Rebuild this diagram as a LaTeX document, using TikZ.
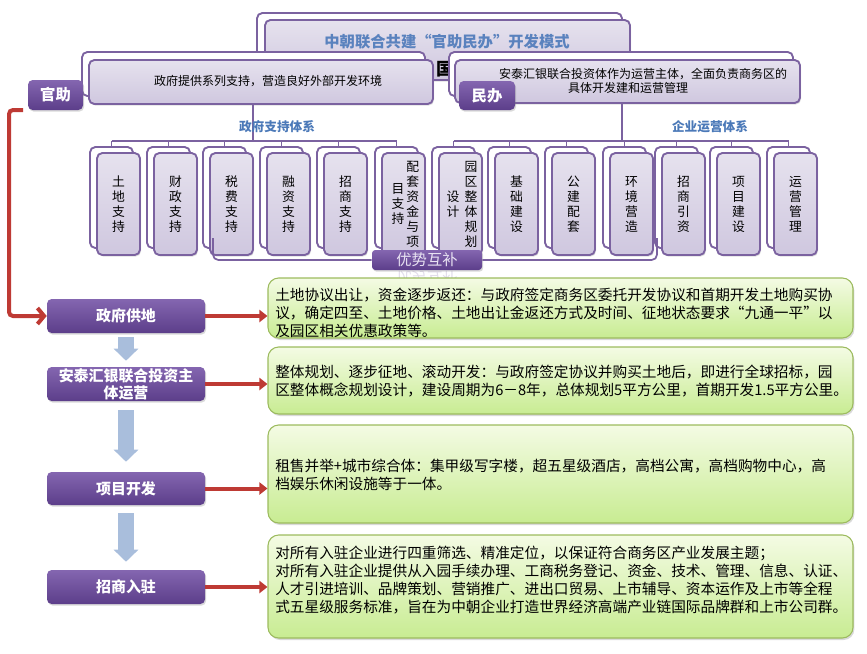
\documentclass[tikz,border=0pt]{standalone}
\usepackage{fontspec}
\usepackage{graphicx}
\setmainfont{Noto Sans CJK SC}
\usetikzlibrary{fit,shadows,arrows.meta}
\definecolor{pborder}{HTML}{7B62A0}
\definecolor{lav}{HTML}{CFC7DF}
\definecolor{lavtop}{HTML}{E6E2EE}
\definecolor{pdark}{HTML}{5C3E8A}
\definecolor{plight}{HTML}{8466B0}
\definecolor{gfilltop}{HTML}{F4FBE4}
\definecolor{gfillbot}{HTML}{C8EC92}
\definecolor{gborder}{HTML}{9CBB5E}
\definecolor{tblue}{HTML}{5A82BE}
\definecolor{lblue}{HTML}{4B79B8}
\definecolor{arrred}{HTML}{BE3A34}
\definecolor{arrblue}{HTML}{A9BEDC}
\definecolor{ybtext}{HTML}{E8E2F2}
\begin{document}
\begin{tikzpicture}[x=0.75pt,y=-0.75pt,
  backbox/.style={draw=pborder,line width=1.4pt,rounded corners=4pt,fill=white,inner sep=0pt},
  frontbox/.style={draw=pborder,line width=1.4pt,rounded corners=4pt,top color=lavtop,bottom color=lav,inner sep=0pt,
    drop shadow={opacity=0.25,shadow xshift=0.8pt,shadow yshift=-1.2pt}},
  tagbox/.style={rounded corners=3.5pt,top color=plight,bottom color=pdark,inner sep=0pt,
    drop shadow={opacity=0.3,shadow xshift=0.8pt,shadow yshift=-1.2pt}},
  tagtext/.style={text=white,inner sep=0pt,font=\bfseries\fontsize{11.5}{13}\selectfont},
  steptext/.style={text=white,inner sep=0pt,align=center,font=\bfseries\fontsize{11.2}{12.8}\selectfont},
  greenbox/.style={draw=gborder,line width=0.8pt,rounded corners=8pt,top color=gfilltop,bottom color=gfillbot,inner sep=0pt,
    drop shadow={opacity=0.3,shadow xshift=1pt,shadow yshift=-1.5pt}},
  gtext/.style={anchor=west,align=left,inner sep=0pt,font=\fontsize{11}{13.5}\selectfont},
  coltext/.style={align=center,inner sep=0pt,font=\fontsize{9.6}{11.25}\selectfont},
  boxtext/.style={inner sep=0pt,font=\fontsize{9}{10.5}\selectfont},
  bluelab/.style={inner sep=0pt,text=lblue,font=\bfseries\fontsize{9.5}{11}\selectfont},
  conn/.style={draw=pborder,line width=1.3pt},
  redarr/.style={draw=arrred,line width=3pt,-{Triangle[length=6pt,width=9pt]}},
  bigred/.style={draw=arrred,line width=3pt,rounded corners=3pt,-{Straight Barb[length=5pt,width=12pt]}},
  bluearr/.style={draw=arrblue,line width=12pt,-{Triangle[length=9pt,width=18pt]}}
]
\useasboundingbox (0,0) rectangle (867,653);

% title
\node[backbox, fit={(257,13) (622,73)}] (tb) {};
\node[frontbox, fit={(265,20) (630,80)}] (tf) {};
\node[inner sep=0pt,text=tblue,font=\bfseries\fontsize{11.5}{13}\selectfont] (tt) at (447,42) {中朝联合共建“官助民办”开发模式};
\node[inner sep=0pt,font=\bfseries\fontsize{13}{14}\selectfont] (frag) at (445,69) {国};

% left top box
\node[backbox, fit={(82,52) (425,96)}] (lb) {};
\node[frontbox, fit={(89,60) (433,104)}] (lf) {};
\node[boxtext] (lt) at (268,81) {政府提供系列支持，营造良好外部开发环境};

% right top box
\node[backbox, fit={(449,52) (793,96)}] (rb) {};
\node[frontbox, fit={(455,60) (800,103)}] (rf) {};
\node[boxtext] (rt1) at (643,74) {安泰汇银联合投资体作为运营主体，全面负责商务区的};
\node[boxtext] (rt2) at (628,88) {具体开发建和运营管理};

\node[tagbox, fit={(28,80) (83,110)}] (gz) {};
\node[tagtext] (gzt) at (gz) {官助};
\node[tagbox, fit={(459,81) (515,110)}] (mb) {};
\node[tagtext] (mbt) at (mb) {民办};

% junctions
\coordinate (lj) at (253,141);
\coordinate (rj) at (622,141);
\draw[conn] (lf.south -| lj) -- (lj);
\draw[conn] (rf.south -| rj) -- (rj);

% columns
\foreach \i/\bx in {1/90,2/147,3/203,4/260,5/317,6/375,7/432,8/488,9/545,10/603,11/655,12/710,13/767}{
  \node[backbox, fit={(\bx,147) (\bx+43,248)}] (bk\i) {};
  \node[frontbox, fit={(\bx+7,153) (\bx+50,255)}] (fr\i) {};
}
\draw[conn] (bk1.north |- lj) -- (bk6.north |- lj);
\draw[conn] (bk7.north |- rj) -- (bk13.north |- rj);
\foreach \i in {1,...,6}{\draw[conn] (bk\i.north |- lj) -- (bk\i.north);}
\foreach \i in {7,...,13}{\draw[conn] (bk\i.north |- rj) -- (bk\i.north);}

\node[bluelab] (lsys) at (277,127) {政府支持体系};
\node[bluelab] (rsys) at (710,127) {企业运营体系};

\node[coltext] (c1) at (fr1) {土\\地\\支\\持};
\node[coltext] (c2) at (fr2) {财\\政\\支\\持};
\node[coltext] (c3) at (fr3) {税\\费\\支\\持};
\node[coltext] (c4) at (fr4) {融\\资\\支\\持};
\node[coltext] (c5) at (fr5) {招\\商\\支\\持};
\node[coltext, xshift=7pt] (c6a) at (fr6) {配\\套\\资\\金\\与\\项};
\node[coltext, xshift=-4.2pt] (c6b) at (fr6) {目\\支\\持};
\node[coltext, xshift=7.8pt] (c7a) at (fr7) {园\\区\\整\\体\\规\\划};
\node[coltext, xshift=-5.6pt] (c7b) at (fr7) {设\\计};
\node[coltext] (c8) at (fr8) {基\\础\\建\\设};
\node[coltext] (c9) at (fr9) {公\\建\\配\\套};
\node[coltext] (c10) at (fr10) {环\\境\\营\\造};
\node[coltext] (c11) at (fr11) {招\\商\\引\\资};
\node[coltext] (c12) at (fr12) {项\\目\\建\\设};
\node[coltext] (c13) at (fr13) {运\\营\\管\\理};

% complement box
\node[inner sep=0pt,text=pborder,opacity=0.22,font=\fontsize{11.5}{13}\selectfont] (ybr) at (427,278) {\scalebox{1}[-1]{优势互补}};
\node[rounded corners=2.5pt,top color=plight,bottom color=pdark,inner sep=0pt,
  drop shadow={opacity=0.3,shadow xshift=0.8pt,shadow yshift=-1.2pt},
  fit={(372,250) (482,270)}] (yb) {};
\node[inner sep=0pt,text=ybtext,font=\fontsize{11.5}{13}\selectfont] (ybt) at (yb) {优势互补};
\coordinate (ylt) at (213,238);
\coordinate (yrt) at (657,238);
\draw[conn, rounded corners=4pt] (yb.west) -| (ylt);
\draw[conn, rounded corners=4pt] (yb.east) -| (yrt);

% detail boxes
\node[greenbox, fit={(268,278) (853,338)}] (g1) {};
\node[greenbox, fit={(268,347) (853,414)}] (g2) {};
\node[greenbox, fit={(268,425) (853,523)}] (g3) {};
\node[greenbox, fit={(268,535) (853,638)}] (g4) {};
\node[gtext] (d1) at (275,313) {土地协议出让，资金逐步返还：与政府签定商务区委托开发协议和首期开发土地购买协\\议，确定四至、土地价格、土地出让金返还方式及时间、征地状态要求“九通一平”以\\及园区相关优惠政策等。};
\node[gtext] (d2) at (275,381) {整体规划、逐步征地、滚动开发：与政府签定协议并购买土地后，即进行全球招标，园\\区整体概念规划设计，建设周期为6－8年，总体规划5平方公里，首期开发1.5平方公里。};
\node[gtext] (d3) at (275,475) {租售并举+城市综合体：集甲级写字楼，超五星级酒店，高档公寓，高档购物中心，高\\档娱乐休闲设施等于一体。};
\node[gtext] (d4) at (275,580) {对所有入驻企业进行四重筛选、精准定位，以保证符合商务区产业发展主题；\\对所有入驻企业提供从入园手续办理、工商税务登记、资金、技术、管理、信息、认证、\\人才引进培训、品牌策划、营销推广、进出口贸易、上市辅导、资本运作及上市等全程\\式五星级服务标准，旨在为中朝企业打造世界经济高端产业链国际品牌群和上市公司群。};

% step boxes
\node[tagbox, fit={(47,299) (205,333)}] (s1) {};
\node[steptext] (s1t) at (s1) {政府供地};
\node[tagbox, fit={(47,367) (205,401)}] (s2) {};
\node[steptext] (s2t) at (s2) {安泰汇银联合投资主\\体运营};
\node[tagbox, fit={(47,472) (205,505)}] (s3) {};
\node[steptext] (s3t) at (s3) {项目开发};
\node[tagbox, fit={(47,570) (205,604)}] (s4) {};
\node[steptext] (s4t) at (s4) {招商入驻};

\draw[bluearr, shorten <=3pt, shorten >=4.5pt] (s1.south) -- (s2.north);
\draw[bluearr, shorten <=6.75pt, shorten >=7.5pt] (s2.south) -- (s3.north);
\draw[bluearr, shorten <=6pt, shorten >=6pt] (s3.south) -- (s4.north);

\draw[redarr] (s1.east) -- (s1.east -| g1.west);
\draw[redarr] (s2.east) -- (s2.east -| g2.west);
\draw[redarr] (s3.east) -- (s3.east -| g3.west);
\draw[redarr] (s4.east) -- (s4.east -| g4.west);

\coordinate (rstart) at (23,110);
\draw[bigred] (rstart) -- (9,110) |- (s1.west);
\end{tikzpicture}
\end{document}
